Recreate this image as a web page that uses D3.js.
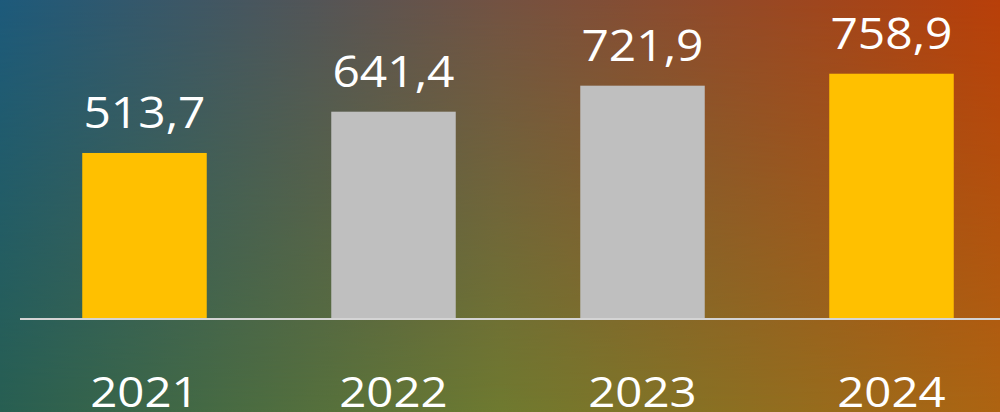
<!doctype html>
<html>
<head>
<meta charset="utf-8">
<title>Bars</title>
<style>
  html, body { margin: 0; padding: 0; background: #000; }
  svg { display: block; }
  text { font-family: "Open Sans", sans-serif; fill: #fff; }
</style>
</head>
<body>
<svg width="1000" height="412"></svg>
<script src="https://d3js.org/d3.v7.min.js"></script>
<script>
const years = ["2021", "2022", "2023", "2024"];
const values = [513.7, 641.4, 721.9, 758.9];
const labels = ["513,7", "641,4", "721,9", "758,9"];

const width = 1000, height = 412;
const baseY = 319;

const svg = d3.select("svg");
const defs = svg.append("defs");

// background: bottom gradient + top gradient faded by a vertical mask
const topGrad = defs.append("linearGradient").attr("id", "topGrad");
[["0%", "#1d5a7b"], ["50%", "#735242"], ["100%", "#b83f09"]].forEach(s =>
  topGrad.append("stop").attr("offset", s[0]).attr("stop-color", s[1]));
const botGrad = defs.append("linearGradient").attr("id", "botGrad");
[["0%", "#285f52"], ["50%", "#6f7a30"], ["100%", "#ae6412"]].forEach(s =>
  botGrad.append("stop").attr("offset", s[0]).attr("stop-color", s[1]));
const fade = defs.append("linearGradient").attr("id", "fade")
  .attr("x1", 0).attr("y1", 0).attr("x2", 0).attr("y2", 1);
fade.append("stop").attr("offset", "0%").attr("stop-color", "#fff");
fade.append("stop").attr("offset", "100%").attr("stop-color", "#000");
defs.append("mask").attr("id", "fadeMask")
  .append("rect").attr("width", width).attr("height", height).attr("fill", "url(#fade)");

svg.append("rect").attr("width", width).attr("height", height).attr("fill", "url(#botGrad)");
svg.append("rect").attr("width", width).attr("height", height).attr("fill", "url(#topGrad)")
  .attr("mask", "url(#fadeMask)");

const x = d3.scaleBand().domain(years).range([20, 1016]).paddingInner(0.5).paddingOuter(0.25);
const y = d3.scaleLinear().domain([0, 987]).range([baseY, 0]);
const color = d3.scaleOrdinal().domain(years).range(["#ffc000", "#bfbfbf", "#bfbfbf", "#ffc000"]);

const g = svg.append("g");

g.selectAll("rect.bar")
  .data(years)
  .enter()
  .append("rect")
    .attr("class", "bar")
    .attr("x", d => x(d))
    .attr("width", x.bandwidth())
    .attr("y", (d, i) => y(values[i]))
    .attr("height", (d, i) => baseY - y(values[i]))
    .attr("fill", d => color(d));

// baseline
svg.append("line")
  .attr("x1", 20).attr("x2", width)
  .attr("y1", baseY).attr("y2", baseY)
  .attr("stroke", "#d4d4d4").attr("stroke-width", 2);

// labels: the original font is wider, so stretch glyphs horizontally a little
const cx = d => x(d) + x.bandwidth() / 2;

g.selectAll("text.val")
  .data(years)
  .enter()
  .append("text")
    .attr("class", "val")
    .attr("transform", (d, i) => "translate(" + cx(d) + "," + (y(values[i]) - 25) + ") scale(1.09,1)")
    .attr("text-anchor", "middle")
    .attr("font-size", "44px")
    .text((d, i) => labels[i]);

g.selectAll("text.year")
  .data(years)
  .enter()
  .append("text")
    .attr("class", "year")
    .attr("transform", d => "translate(" + cx(d) + ",407) scale(1.13,1)")
    .attr("text-anchor", "middle")
    .attr("font-size", "42px")
    .text(d => d);
</script>
</body>
</html>
